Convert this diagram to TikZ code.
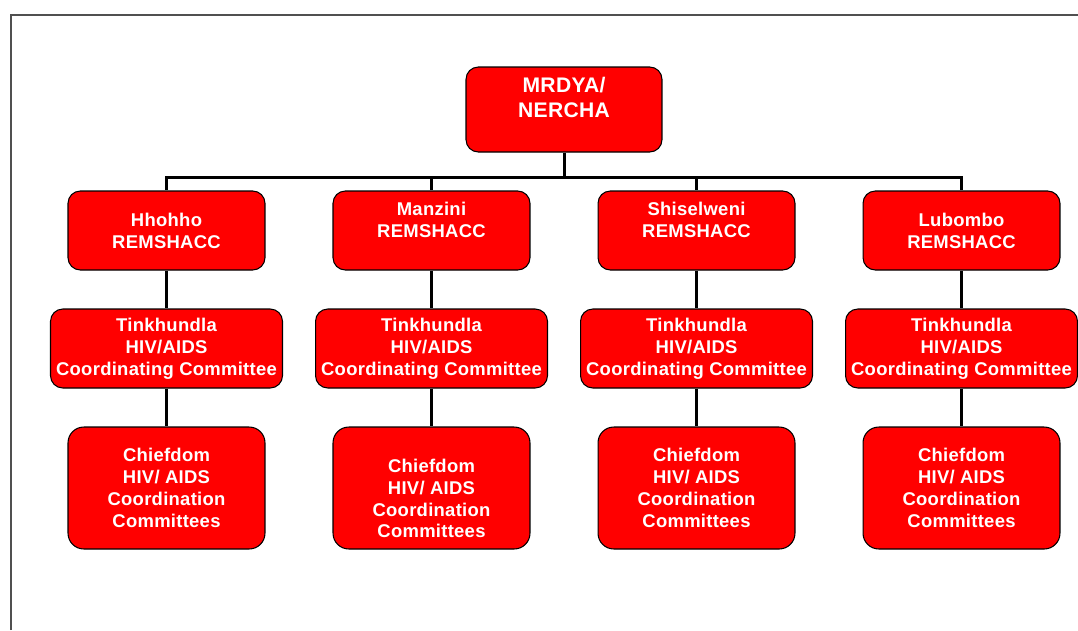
\documentclass[tikz,border=0pt]{standalone}
\usepackage{fontspec}
\setmainfont{Liberation Sans}
\newfontfamily\boxfont[LetterSpace=1.5]{Liberation Sans}
\usepackage{xcolor}
\usepackage{tikz}
\definecolor{boxred}{RGB}{255,0,0}
\definecolor{framegray}{RGB}{80,80,80}

\begin{document}
\begin{tikzpicture}[x=0.02cm, y=-0.02cm,
  box/.style={draw=black, line width=0.6pt, rounded corners=7pt, fill=boxred, text=white,
              minimum width=3.94cm, minimum height=1.58cm, inner sep=1pt, align=center,
              font=\boxfont\fontsize{10.5}{12.5}\selectfont\bfseries},
  wide/.style={minimum width=4.64cm},
  tall/.style={minimum height=2.44cm, rounded corners=9pt},
  link/.style={line width=1.7pt}]
  \useasboundingbox (0,0) rectangle (1078,630);
  \draw[framegray, line width=0.6pt] (11,630) -- (11,15) -- (1078,15);

  \node[box, minimum width=3.92cm, minimum height=1.7cm,
        font=\boxfont\fontsize{12}{14.2}\selectfont\bfseries] (mrdya) at (564,109.5)
    {MRDYA/\\NERCHA\\\mbox{}};
  \coordinate (bus) at (564,177);

  \node[box] (hhohho) at (166.5,230.5) {Hhohho\\REMSHACC};
  \node[box] (manzini) at (431.5,230.5) {Manzini\\REMSHACC\\\mbox{}};
  \node[box] (shiselweni) at (696.5,230.5) {Shiselweni\\REMSHACC\\\mbox{}};
  \node[box] (lubombo) at (961.5,230.5) {Lubombo\\REMSHACC};

  \node[box, wide] (hhtink) at (166.5,348.5) {Tinkhundla\\HIV/AIDS\\Coordinating Committee};
  \node[box, wide] (mztink) at (431.5,348.5) {Tinkhundla\\HIV/AIDS\\Coordinating Committee};
  \node[box, wide] (shtink) at (696.5,348.5) {Tinkhundla\\HIV/AIDS\\Coordinating Committee};
  \node[box, wide] (lbtink) at (961.5,348.5) {Tinkhundla\\HIV/AIDS\\Coordinating Committee};

  \node[box, tall] (hhchief) at (166.5,488) {Chiefdom\\HIV/ AIDS\\Coordination\\Committees};
  \node[box, tall] (mzchief) at (431.5,488) {\mbox{}\\[7pt]Chiefdom\\HIV/ AIDS\\Coordination\\Committees};
  \node[box, tall] (shchief) at (696.5,488) {Chiefdom\\HIV/ AIDS\\Coordination\\Committees};
  \node[box, tall] (lbchief) at (961.5,488) {Chiefdom\\HIV/ AIDS\\Coordination\\Committees};

  % connectors
  \draw[link] (mrdya.south) -- (bus);
  \foreach \n in {hhohho, manzini, shiselweni, lubombo}
    \draw[link] (bus) -| (\n.north);
  \foreach \a/\b/\c in {hhohho/hhtink/hhchief, manzini/mztink/mzchief,
                        shiselweni/shtink/shchief, lubombo/lbtink/lbchief} {
    \draw[link] (\a.south) -- (\b.north);
    \draw[link] (\b.south) -- (\c.north);
  }
\end{tikzpicture}
\end{document}
